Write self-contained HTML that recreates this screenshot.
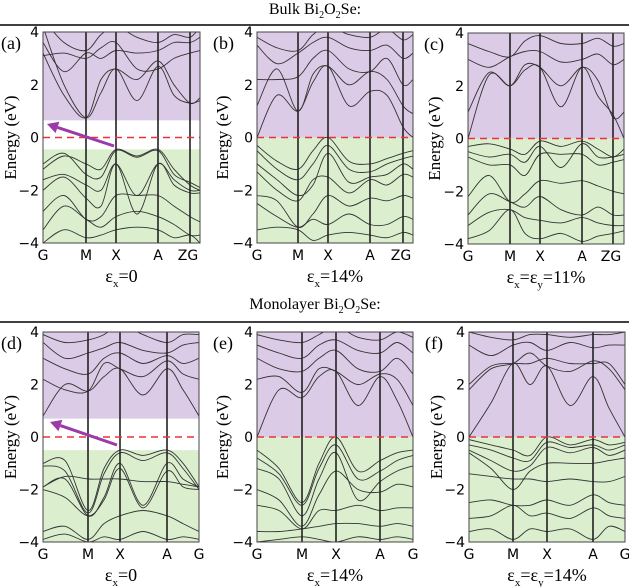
<!DOCTYPE html>
<html><head><meta charset="utf-8">
<style>
body{margin:0;background:#fff;}
svg{display:block;}
</style></head>
<body>
<svg id="fig" width="629" height="587" viewBox="0 0 629 587" xmlns="http://www.w3.org/2000/svg">
<text font-family="Liberation Serif, serif" x="315" y="14" font-size="16" text-anchor="middle">Bulk Bi<tspan font-size="10" dy="4">2</tspan><tspan dy="-4">O</tspan><tspan font-size="10" dy="4">2</tspan><tspan dy="-4">Se:</tspan></text>
<line x1="0" y1="25" x2="629" y2="25" stroke="#000" stroke-width="1.5"/>
<text font-family="Liberation Serif, serif" x="315" y="309" font-size="16" text-anchor="middle">Monolayer Bi<tspan font-size="10" dy="4">2</tspan><tspan dy="-4">O</tspan><tspan font-size="10" dy="4">2</tspan><tspan dy="-4">Se:</tspan></text>
<line x1="0" y1="322" x2="629" y2="322" stroke="#000" stroke-width="1.5"/>
</svg>
<script>
const kLabels6 = ["G","M","X","A","ZG"];
const kLabels5 = ["G","M","X","A","G"];
const yTicks = [4,2,0,-2,-4];
const kA = [0,21,43,58,73,94,115,131,147,157];
const kB = [0,20,41,56,71,92,113,130,146,156];
const kC = [0,21,42,57,72,93,114,130,145,156];
const kD = [0,22,45,61,77,100,124,140,156];
const kE = [0,22,45,62,79,101,123,140,156];
const kF = [0,22,44,61,78,101,124,140,156];
const symA = [0,43,73,115,147,157];
const symB = [0,41,71,113,146,156];
const symC = [0,42,72,114,145,156];
const symD = [0,45,77,124,156];
const symE = [0,45,79,123,156];
const symF = [0,44,78,124,156];
const bandsA = [
[4.2,2.0,0.75,1.7,2.6,1.4,2.7,1.6,1.3,1.4],
[3.2,1.6,0.75,2.2,2.6,2.2,2.9,2.0,1.3,1.5],
[3.1,3.2,3.0,3.4,3.6,2.6,2.6,3.0,3.2,3.3],
[3.6,2.5,3.2,3.0,3.3,3.2,3.3,3.6,3.6,3.8],
[4.5,3.6,3.3,3.9,4.2,3.8,3.6,3.9,3.8,4.2],
[-1.2,-0.7,-1.0,-1.2,-0.45,-0.7,-0.45,-1.2,-1.8,-2.0],
[-1.0,-0.6,-1.4,-1.5,-0.5,-0.75,-0.5,-1.4,-1.7,-1.9],
[-1.6,-1.4,-1.8,-2.0,-1.0,-2.2,-1.0,-1.6,-2.0,-2.0],
[-2.0,-1.5,-2.3,-2.6,-1.0,-2.9,-1.0,-1.8,-2.1,-2.1],
[-2.8,-2.2,-3.1,-3.0,-2.2,-2.2,-2.2,-2.6,-3.0,-3.2],
[-3.5,-2.6,-3.1,-3.4,-3.0,-2.8,-3.0,-3.3,-3.7,-3.7],
[-4.0,-3.5,-3.8,-3.7,-3.5,-3.4,-3.5,-3.8,-3.7,-4.0]];
const bandsB = [
[0.0,1.6,1.0,2.1,2.7,1.2,1.75,1.6,0.4,0.0],
[1.2,2.6,1.0,2.4,2.7,2.0,2.5,2.2,1.2,0.9],
[2.2,2.2,2.3,3.0,3.3,2.6,2.5,3.0,2.0,2.2],
[3.5,2.8,3.2,3.6,3.8,3.4,3.3,3.5,3.0,3.2],
[3.8,3.4,3.3,3.9,4.2,3.9,3.8,4.1,3.7,3.9],
[-0.3,-0.9,-1.2,-0.5,0.0,-0.9,-1.0,-0.8,-0.6,-0.5],
[-0.5,-1.2,-1.6,-1.0,-0.3,-1.2,-1.3,-1.0,-0.8,-0.7],
[-1.0,-1.6,-2.2,-1.8,-0.6,-1.7,-1.5,-1.4,-1.0,-1.2],
[-1.3,-2.0,-2.4,-1.6,-1.5,-2.1,-1.6,-1.8,-1.4,-1.5],
[-2.2,-2.4,-3.4,-2.9,-2.2,-2.6,-2.3,-2.4,-2.2,-2.3],
[-2.5,-3.0,-3.4,-3.1,-3.3,-2.9,-3.3,-3.3,-3.0,-3.1],
[-3.5,-3.4,-3.5,-3.9,-3.7,-3.6,-3.7,-3.8,-3.6,-3.7]];
const bandsC = [
[0.0,2.4,2.0,2.6,2.7,1.2,2.7,1.6,0.9,0.0],
[1.0,2.5,2.0,2.8,2.7,2.0,2.7,2.2,0.8,1.0],
[3.0,2.7,3.1,3.3,3.3,2.9,3.0,3.2,2.8,3.0],
[3.6,3.3,3.1,3.7,3.9,3.6,3.6,3.8,3.5,3.6],
[-0.3,-0.2,-0.4,-0.6,-0.1,-0.3,-0.1,-0.4,-0.7,-0.4],
[-0.5,-0.7,-0.6,-0.9,-0.3,-1.1,-0.2,-0.7,-0.7,-0.6],
[-0.7,-1.0,-1.0,-1.4,-0.6,-0.6,-0.6,-1.0,-0.9,-0.8],
[-2.2,-1.4,-2.4,-2.1,-1.6,-1.7,-1.6,-1.8,-2.0,-2.1],
[-2.9,-2.1,-2.4,-2.6,-2.2,-2.7,-2.9,-2.6,-2.9,-2.9],
[-3.3,-2.8,-2.7,-3.0,-3.1,-3.2,-3.0,-3.2,-3.3,-3.3],
[-3.8,-3.5,-2.7,-3.6,-3.8,-3.6,-3.9,-3.7,-3.6,-3.5]];
const bandsD = [
[0.8,2.0,1.75,2.3,2.6,1.6,2.6,1.8,0.8],
[2.2,1.8,1.75,2.8,2.6,2.3,2.9,2.4,2.2],
[3.0,2.6,2.4,3.0,3.2,2.8,3.1,2.8,3.0],
[3.6,3.0,3.2,3.4,3.6,3.3,3.2,3.5,3.6],
[3.9,3.6,3.7,3.9,4.3,3.9,3.6,3.9,3.9],
[-1.0,-0.9,-2.8,-1.2,-0.5,-0.7,-0.5,-1.0,-1.9],
[-1.1,-1.3,-2.9,-1.4,-0.6,-0.9,-0.6,-1.2,-2.0],
[-1.9,-1.6,-3.0,-2.3,-1.0,-2.6,-1.0,-1.6,-1.9],
[-2.0,-2.3,-3.0,-2.4,-1.2,-2.7,-1.3,-1.9,-2.0],
[-1.9,-1.5,-1.6,-1.6,-1.6,-1.7,-1.7,-1.8,-1.9],
[-3.6,-3.4,-3.9,-3.3,-3.0,-2.8,-3.0,-3.3,-3.6],
[-3.9,-3.7,-4.0,-3.8,-3.9,-3.6,-3.9,-3.8,-3.9]];
const bandsE = [
[0.0,1.8,1.5,2.3,2.5,1.2,2.3,1.4,0.0],
[2.2,2.3,1.7,2.6,2.5,2.0,2.4,2.2,1.2],
[3.0,2.6,2.5,3.0,3.3,2.6,2.5,3.0,2.4],
[3.5,3.2,3.0,3.5,3.7,3.3,3.2,3.6,3.2],
[3.9,3.7,3.6,3.9,4.2,3.8,3.7,4.0,3.8],
[-0.5,-1.2,-2.5,-1.0,0.0,-1.3,-0.9,-0.6,-0.5],
[-0.8,-1.4,-2.6,-1.2,-0.3,-1.6,-1.3,-0.9,-0.7],
[-1.2,-1.6,-3.0,-1.6,-0.6,-2.4,-1.7,-1.3,-1.1],
[-2.0,-2.4,-3.4,-2.2,-1.3,-2.0,-2.1,-1.8,-1.9],
[-2.6,-2.8,-3.5,-2.8,-2.8,-2.6,-2.8,-2.7,-2.7],
[-3.6,-3.6,-3.5,-3.4,-3.3,-3.3,-3.4,-3.3,-3.4],
[-4.0,-3.9,-3.8,-3.9,-4.0,-3.8,-3.9,-3.8,-3.9]];
const bandsF = [
[0.0,1.3,2.8,2.0,2.7,1.2,2.3,1.1,0.0],
[1.8,2.6,2.8,3.2,2.7,2.5,2.9,2.6,1.8],
[2.0,2.7,2.8,2.8,3.0,2.8,2.8,2.8,2.0],
[3.5,3.1,3.5,3.6,3.3,3.6,3.4,3.5,3.5],
[4.0,3.8,3.7,3.9,3.9,3.8,3.9,3.9,4.0],
[-0.1,-0.3,-0.5,-0.7,0.0,-0.3,-0.1,-0.3,-0.2],
[-0.3,-0.5,-0.8,-0.9,-0.2,-0.4,-0.3,-0.5,-0.3],
[-0.5,-0.9,-1.3,-1.1,-0.4,-0.6,-0.4,-0.7,-0.5],
[-0.6,-1.2,-2.0,-1.3,-1.0,-1.0,-1.0,-0.9,-0.8],
[-1.4,-1.5,-1.6,-1.6,-1.7,-1.6,-1.7,-1.7,-1.5],
[-2.5,-2.4,-2.6,-2.6,-2.4,-2.6,-2.2,-2.5,-2.6],
[-3.1,-3.0,-2.6,-3.0,-2.9,-3.1,-2.7,-3.0,-3.1],
[-3.6,-3.5,-3.9,-3.5,-3.6,-3.5,-3.9,-3.4,-3.6]];
const gapA = [0.65,-0.45], gapB=[0,0], gapC=[0,0], gapD=[0.7,-0.5], gapE=[0,0], gapF=[0,0];

const panels = [
 {id:"a",x0:43,x1:200,y0:32,y1:243,k:kA,sym:symA,labels:kLabels6,bands:bandsA,gap:gapA,cap:["x"],capv:"0",arrow:[114,146,47,124],axx:10},
 {id:"b",x0:257,x1:413,y0:32,y1:243,k:kB,sym:symB,labels:kLabels6,bands:bandsB,gap:gapB,cap:["x"],capv:"14%",axx:222},
 {id:"c",x0:468,x1:624,y0:33,y1:244,k:kC,sym:symC,labels:kLabels6,bands:bandsC,gap:gapC,cap:["x","y"],capv:"11%",axx:434},
 {id:"d",x0:43,x1:199,y0:332,y1:542,k:kD,sym:symD,labels:kLabels5,bands:bandsD,gap:gapD,cap:["x"],capv:"0",arrow:[117,445,50,422],axx:10},
 {id:"e",x0:257,x1:413,y0:332,y1:542,k:kE,sym:symE,labels:kLabels5,bands:bandsE,gap:gapE,cap:["x"],capv:"14%",axx:222},
 {id:"f",x0:469,x1:625,y0:332,y1:542,k:kF,sym:symF,labels:kLabels5,bands:bandsF,gap:gapF,cap:["x","y"],capv:"14%",axx:436}
];
const NS="http://www.w3.org/2000/svg";
const SERIF="Liberation Serif, serif", SANS="DejaVu Sans, Liberation Sans, sans-serif";
const svg=document.getElementById("fig");
function mk(tag,attrs,parent){const e=document.createElementNS(NS,tag);for(const a in attrs)e.setAttribute(a,attrs[a]);(parent||svg).appendChild(e);return e;}
function crPath(pts){let d="M"+pts[0][0].toFixed(1)+","+pts[0][1].toFixed(1);
 for(let i=0;i<pts.length-1;i++){const p0=pts[Math.max(0,i-1)],p1=pts[i],p2=pts[i+1],p3=pts[Math.min(pts.length-1,i+2)];
  const c1=[p1[0]+(p2[0]-p0[0])/6,p1[1]+(p2[1]-p0[1])/6],c2=[p2[0]-(p3[0]-p1[0])/6,p2[1]-(p3[1]-p1[1])/6];
  d+=" C"+c1[0].toFixed(1)+","+c1[1].toFixed(1)+" "+c2[0].toFixed(1)+","+c2[1].toFixed(1)+" "+p2[0].toFixed(1)+","+p2[1].toFixed(1);}
 return d;}
panels.forEach(p=>{
 const kmax=p.sym[p.sym.length-1];
 const X=k=>p.x0+(k/kmax)*(p.x1-p.x0);
 const Y=e=>p.y0+(4-e)/8*(p.y1-p.y0);
 const g=mk("g",{});
 
 
 const cp=mk("clipPath",{id:"clip"+p.id},g);
 mk("rect",{x:p.x0,y:p.y0,width:p.x1-p.x0,height:p.y1-p.y0},cp);
 const cb=mk("rect",{x:p.x0,y:p.y0,width:p.x1-p.x0,height:Y(p.gap[0])-p.y0,fill:"#dccbe6"},g);
 
 
 const vb=mk("rect",{x:p.x0,y:Y(p.gap[1]),width:p.x1-p.x0,height:p.y1-Y(p.gap[1]),fill:"#dbefcf"},g);
 
 
 const bg=mk("g",{"clip-path":"url(#clip"+p.id+")"},g);
 p.bands.forEach((b,i)=>{
  const pts=b.map((e,j)=>[X(p.k[j]),Y(e)]);
  const path=mk("path",{d:crPath(pts),fill:"none",stroke:"#333","stroke-width":"0.9"},bg);
  
  
 });
 p.sym.slice(1,-1).forEach(s=>{
  const l=mk("line",{x1:X(s),x2:X(s),y1:p.y0,y2:p.y1,stroke:"#222","stroke-width":"1.6"},g);
  
  
 });
 const ef=mk("line",{x1:p.x0,x2:p.x1,y1:Y(0),y2:Y(0),stroke:"#e8333a","stroke-width":"1.6","stroke-dasharray":"7,5"},g);
 
 
 const fr=mk("rect",{x:p.x0,y:p.y0,width:p.x1-p.x0,height:p.y1-p.y0,fill:"none",stroke:"#444","stroke-width":"1"},g);
 
 
 yTicks.forEach(t=>{
  const tx=mk("text",{x:p.x0-4,y:Y(t)+5,"font-size":"14","text-anchor":"end","font-family":SANS},g);
  tx.textContent=t<0?"\u2212"+(-t):String(t);
  
  
 });
 p.sym.forEach((s,i)=>{
  const tx=mk("text",{x:X(s),y:p.y1+17,"font-size":"14","text-anchor":"middle","font-family":SANS},g);
  if(p.labels[i]==="ZG"){tx.setAttribute("x",X(p.sym[i])-2);}
  tx.textContent=p.labels[i];
  
  
 });
 const yt=mk("text",{x:0,y:0,"font-size":"17","text-anchor":"middle","font-family":SERIF,transform:"translate("+(p.axx+6)+","+((p.y0+p.y1)/2)+") rotate(-90)"},g);
 yt.textContent="Energy (eV)";
 
 
 const lb=mk("text",{x:p.x0-44,y:p.y0+17,"font-size":"18","font-family":SERIF},g);
 if(p.id==="a"||p.id==="d"){lb.setAttribute("x",1);}
 lb.textContent="("+p.id+")";
 
 
 const cap=mk("text",{x:(p.x0+p.x1)/2,y:p.y1+39,"font-size":"18","text-anchor":"middle","font-family":SERIF},g);
 
 
 let html="";
 p.cap.forEach(c=>{html+='ε<tspan font-size="11" dy="5">'+c+'</tspan><tspan dy="-5">=</tspan>';});
 html+=p.capv;
 cap.innerHTML=html;
 if(p.arrow){
  const a=p.arrow;
  const ang=Math.atan2(a[3]-a[1],a[2]-a[0]);
  const hl=11,hw=6;
  const bx=a[2]-hl*Math.cos(ang),by=a[3]-hl*Math.sin(ang);
  const ln=mk("line",{x1:a[0],y1:a[1],x2:bx,y2:by,stroke:"#9b3aa8","stroke-width":"3"},g);
  
  
  const px=-Math.sin(ang),py=Math.cos(ang);
  const hd=mk("polygon",{points:a[2]+","+a[3]+" "+(bx+hw*px)+","+(by+hw*py)+" "+(bx-hw*px)+","+(by-hw*py),fill:"#9b3aa8"},g);
  
  
 }
});
</script>
</body></html>
